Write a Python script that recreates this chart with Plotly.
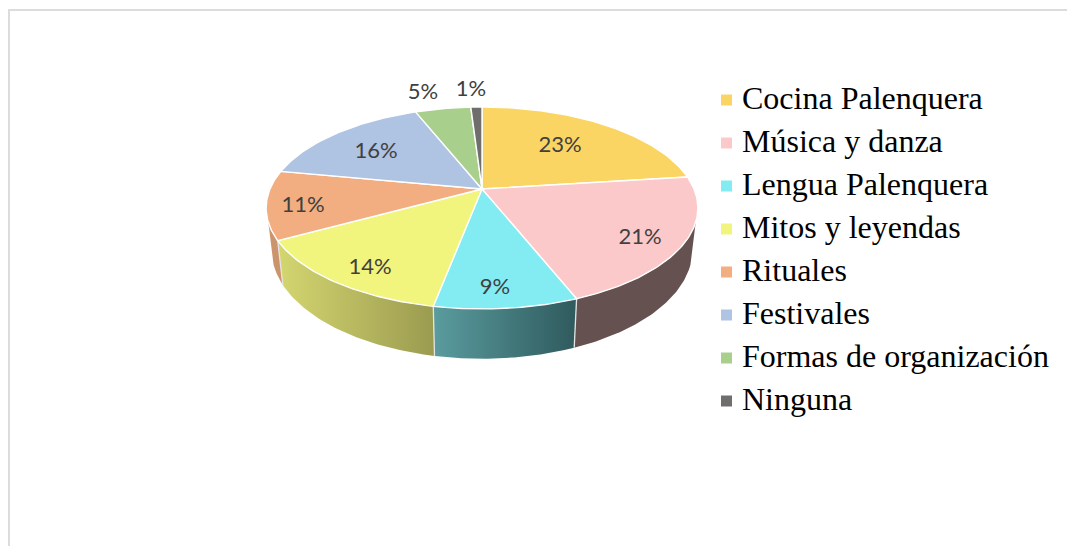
import numpy as np
import plotly.graph_objects as go

# ---- data ----
categories = ["Cocina Palenquera", "Música y danza", "Lengua Palenquera", "Mitos y leyendas",
              "Rituales", "Festivales", "Formas de organización", "Ninguna"]
values = [23, 21, 9, 14, 11, 16, 5, 1]

# ---- styles ----
top_colors = ["#FBD564", "#FCC9CA", "#82ECF2", "#F1F47D", "#F2AD80", "#AFC3E2", "#A9CF8C", "#706D6D"]
wall_colors = {
    1: ["#665151", "#665151"],
    2: ["#5A9C9F", "#2F5A5D"],
    3: ["#D4D670", "#9B9B50"],
    4: ["#CC946C", "#CC946C"],
}
label_xy = [(560, 146), (640, 238), (495, 288), (370, 268), (303, 206), (376, 152), (423, 93), (471, 90)]

# ---- projection of the tilted disc onto the page (pixel-like axes) ----
CX, CY, A, B, P = 482.0, 189.0, 212.0, 97.4, 0.188
XS, YC, YK = 0.975, 229.4, 105.0
WALL_FROM, WALL_TO = 108.6, 251.4  # visible part of the rim, degrees clockwise from the top


def top_pt(deg):
    t = np.radians(deg)
    w = 1 + P * np.cos(t)
    return CX + A * np.sin(t) / w, CY - B * np.cos(t) / w


def bot_pt(deg):
    t = np.radians(deg)
    w = 1 + P * np.cos(t)
    return CX + XS * A * np.sin(t) / w, YC - YK * np.cos(t) / w


edges = 360.0 * np.concatenate([[0], np.cumsum(values)]) / sum(values)
fig = go.Figure()

# rim walls, each shaded from left to right on the page
sep_x, sep_y = [], []
for i in range(len(values)):
    a0, a1 = max(edges[i], WALL_FROM), min(edges[i + 1], WALL_TO)
    if a0 >= a1:
        continue
    th = np.linspace(a0, a1, 60)
    tx, ty = top_pt(th)
    bx, by = bot_pt(th)
    left, right = wall_colors[i]
    fig.add_trace(go.Scatter(
        x=np.concatenate([tx, bx[::-1]]), y=np.concatenate([ty, by[::-1]]),
        mode="lines", line=dict(width=0), fill="toself", hoverinfo="skip", showlegend=False,
        fillgradient=dict(type="horizontal", colorscale=[[0, left], [1, right]]),
    ))

for e in edges:
    if WALL_FROM < e < WALL_TO:
        tx, ty = top_pt(e)
        bx, by = bot_pt(e)
        sep_x += [tx, bx, None]
        sep_y += [ty, by, None]
fig.add_trace(go.Scatter(x=sep_x, y=sep_y, mode="lines", line=dict(color="#E4E4E4", width=1.3),
                         hoverinfo="skip", showlegend=False))

# top faces
for i, (cat, val) in enumerate(zip(categories, values)):
    th = np.linspace(edges[i], edges[i + 1], max(8, int(val * 4)))
    ax, ay = top_pt(th)
    fig.add_trace(go.Scatter(
        x=np.concatenate([[CX], ax, [CX]]), y=np.concatenate([[CY], ay, [CY]]),
        mode="lines", fill="toself", fillcolor=top_colors[i], name=cat,
        line=dict(color="#FFFFFF", width=1.4), showlegend=False,
        hoverinfo="text", text=f"{cat}: {val}%",
    ))

# percentage labels
fig.add_trace(go.Scatter(
    x=[p[0] for p in label_xy], y=[p[1] for p in label_xy], mode="text",
    text=[f"{v}%" for v in values], textposition="middle center",
    textfont=dict(family="Lato", size=22, color="#404040"),
    hoverinfo="skip", showlegend=False,
))

# legend
rows = np.arange(len(categories))
fig.add_trace(go.Scatter(
    x=[726.5] * len(categories), y=100 + 43 * rows, mode="markers",
    marker=dict(symbol="square", size=11, color=top_colors, line=dict(width=0)),
    hoverinfo="skip", showlegend=False,
))
fig.add_trace(go.Scatter(
    x=[742] * len(categories), y=101 + 43 * rows, mode="text", text=categories,
    textposition="middle right",
    textfont=dict(family="Liberation Serif", size=32, color="#000000"),
    hoverinfo="skip", showlegend=False,
))

fig.update_layout(
    width=1067, height=546, margin=dict(l=0, r=0, t=0, b=0),
    paper_bgcolor="#FFFFFF", plot_bgcolor="#FFFFFF",
    xaxis=dict(range=[0, 1067], visible=False, fixedrange=True),
    yaxis=dict(range=[546, 0], visible=False, fixedrange=True),
    showlegend=False,
    shapes=[
        dict(type="line", xref="paper", yref="paper", x0=9 / 1067, x1=9 / 1067, y0=0, y1=1 - 10 / 546,
             line=dict(color="#DCDCDC", width=2)),
        dict(type="line", xref="paper", yref="paper", x0=8 / 1067, x1=1, y0=1 - 10 / 546, y1=1 - 10 / 546,
             line=dict(color="#DCDCDC", width=2)),
    ],
)
fig.write_html("out.html", config=dict(displayModeBar=False),
               post_script="document.body.style.margin='0';document.documentElement.style.overflow='hidden';")
